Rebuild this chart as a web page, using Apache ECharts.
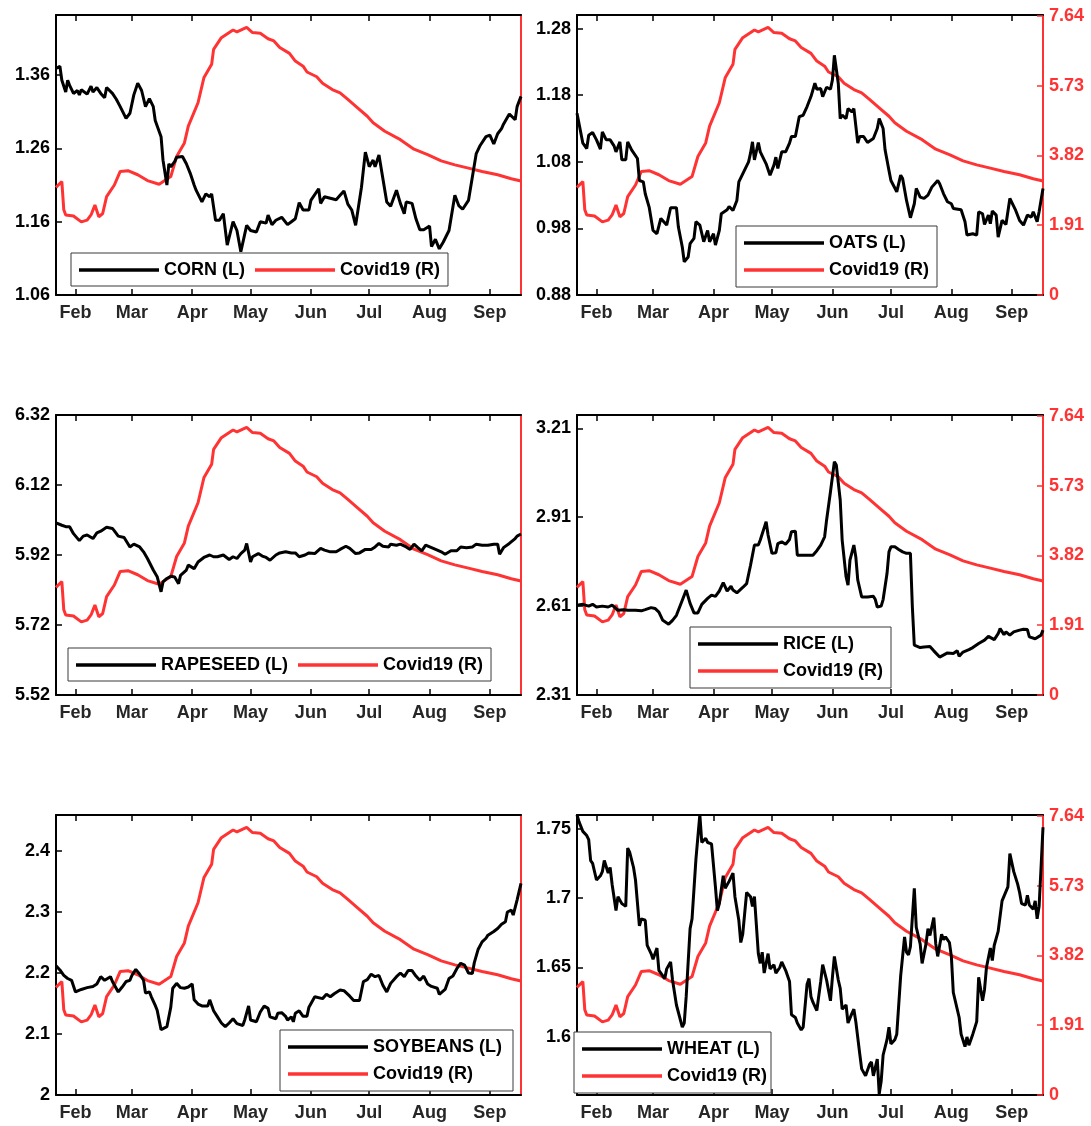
<!DOCTYPE html>
<html>
<head>
<meta charset="utf-8">
<title>Agricultural commodity prices vs Covid19, 2020</title>
<script src="https://cdn.jsdelivr.net/npm/echarts@6/dist/echarts.min.js"></script>
<style>
  html, body { margin: 0; padding: 0; background: #fff; }
  #chart { width: 1091px; height: 1126px; }
</style>
</head>
<body>
<div id="chart"></div>
<script>
// Observations are [day offset from 22 Jan 2020, value].
const START_DATE = Date.UTC(2020, 0, 22);
const END_DAY = 239; // 17 Sep 2020
const MONTH_NAMES = ['Jan', 'Feb', 'Mar', 'Apr', 'May', 'Jun', 'Jul', 'Aug', 'Sep', 'Oct', 'Nov', 'Dec'];
const MONTH_TICKS = ['2020-02-01', '2020-03-01', '2020-04-01', '2020-05-01', '2020-06-01', '2020-07-01', '2020-08-01', '2020-09-01'];

// Covid19 measure (right axis), shared by every panel
const COVID = [[0,2.94],[1,3.00],[3,3.10],[4,2.33],[5,2.19],[9,2.16],[13,2.00],[16,2.05],[18,2.19],[20,2.46],[22,2.14],[24,2.23],[26,2.69],[30,3.01],[33,3.38],[37,3.40],[42,3.29],[47,3.13],[53,3.03],[59,3.24],[62,3.79],[66,4.16],[68,4.62],[73,5.26],[76,5.94],[80,6.31],[81,6.72],[85,7.04],[91,7.25],[93,7.20],[98,7.32],[101,7.18],[105,7.16],[109,7.01],[112,6.95],[115,6.77],[120,6.61],[123,6.40],[127,6.26],[129,6.10],[134,5.97],[137,5.79],[142,5.62],[146,5.53],[150,5.35],[155,5.12],[160,4.89],[163,4.71],[169,4.48],[177,4.25],[184,3.99],[191,3.84],[198,3.67],[205,3.56],[212,3.47],[219,3.38],[227,3.29],[234,3.18],[239,3.12]];
const COVID_TICKS = [0, 1.91, 3.82, 5.73, 7.64];
const COVID_RANGE = [0, 7.66];

const CORN = [[0,1.369],[2,1.372],[3,1.353],[5,1.337],[6,1.353],[7,1.346],[9,1.335],[11,1.339],[12,1.333],[13,1.340],[16,1.334],[18,1.345],[19,1.337],[21,1.343],[23,1.335],[25,1.329],[26,1.343],[29,1.335],[31,1.327],[33,1.317],[34,1.316],[36,1.301],[38,1.308],[40,1.333],[42,1.349],[44,1.339],[46,1.317],[48,1.328],[50,1.317],[51,1.298],[52,1.296],[54,1.276],[55,1.244],[57,1.210],[58,1.239],[59,1.235],[61,1.242],[62,1.248],[65,1.249],[67,1.239],[69,1.226],[71,1.210],[72,1.203],[75,1.187],[77,1.198],[79,1.194],[80,1.198],[82,1.162],[84,1.162],[86,1.171],[88,1.128],[91,1.160],[93,1.148],[95,1.119],[96,1.121],[98,1.155],[100,1.148],[103,1.146],[105,1.160],[108,1.158],[109,1.169],[111,1.156],[113,1.162],[116,1.166],[119,1.156],[121,1.160],[123,1.164],[125,1.186],[127,1.176],[130,1.176],[131,1.189],[135,1.205],[136,1.185],[138,1.194],[141,1.192],[144,1.190],[146,1.196],[148,1.202],[150,1.184],[152,1.176],[154,1.155],[155,1.155],[157,1.207],[159,1.255],[161,1.235],[163,1.244],[164,1.235],[166,1.251],[168,1.219],[170,1.187],[172,1.181],[175,1.203],[177,1.185],[179,1.171],[180,1.187],[183,1.185],[185,1.164],[187,1.149],[189,1.149],[192,1.154],[193,1.126],[195,1.136],[197,1.123],[199,1.132],[202,1.148],[204,1.180],[205,1.196],[207,1.182],[209,1.177],[212,1.189],[214,1.221],[216,1.253],[218,1.264],[221,1.276],[223,1.278],[225,1.266],[227,1.280],[229,1.287],[230,1.293],[233,1.307],[234,1.309],[236,1.299],[237,1.317],[239,1.331]];
const CORN_TICKS = [1.06, 1.16, 1.26, 1.36];
const CORN_RANGE = [1.06, 1.442];

const OATS = [[0,1.153],[1,1.150],[3,1.108],[5,1.100],[6,1.120],[8,1.124],[10,1.113],[12,1.099],[13,1.125],[15,1.113],[17,1.113],[19,1.104],[20,1.095],[22,1.110],[23,1.083],[25,1.083],[26,1.110],[28,1.098],[31,1.085],[32,1.052],[34,1.050],[35,1.032],[37,1.012],[39,0.977],[41,0.972],[43,0.995],[44,0.992],[46,0.985],[48,1.011],[51,1.011],[52,0.982],[54,0.952],[55,0.930],[57,0.937],[58,0.957],[60,0.965],[61,0.990],[63,0.985],[65,0.960],[67,0.977],[68,0.960],[70,0.972],[71,0.955],[73,0.977],[74,1.002],[77,1.008],[78,1.013],[80,1.007],[82,1.022],[83,1.050],[85,1.062],[86,1.060],[88,1.080],[89,1.093],[90,1.110],[91,1.083],[93,1.109],[94,1.095],[97,1.077],[99,1.060],[101,1.075],[102,1.087],[103,1.070],[105,1.095],[107,1.095],[109,1.108],[110,1.118],[112,1.118],[114,1.148],[116,1.150],[118,1.163],[120,1.178],[122,1.198],[123,1.189],[125,1.190],[126,1.178],[128,1.192],[130,1.189],[131,1.203],[132,1.240],[134,1.198],[135,1.145],[136,1.150],[138,1.145],[139,1.160],[141,1.155],[142,1.160],[144,1.108],[145,1.118],[147,1.118],[149,1.109],[152,1.115],[154,1.130],[155,1.145],[157,1.130],[158,1.098],[160,1.067],[161,1.052],[164,1.035],[166,1.060],[167,1.055],[169,1.022],[171,0.996],[173,1.017],[174,1.040],[176,1.027],[178,1.025],[180,1.030],[182,1.042],[185,1.052],[186,1.047],[188,1.032],[190,1.020],[192,1.017],[193,1.010],[194,1.010],[197,1.008],[199,0.990],[200,0.970],[203,0.972],[205,0.970],[206,1.005],[208,1.002],[209,0.986],[211,1.000],[212,0.987],[213,1.006],[215,1.000],[216,0.967],[218,0.992],[220,0.986],[222,1.025],[225,1.007],[227,0.992],[229,0.985],[231,1.000],[233,0.997],[234,1.005],[236,0.990],[237,1.005],[238,1.002],[239,1.040]];
const OATS_TICKS = [0.88, 0.98, 1.08, 1.18, 1.28];
const OATS_RANGE = [0.88, 1.3005];

const RAPESEED = [[0,6.012],[3,6.005],[5,6.001],[7,6.001],[9,5.981],[12,5.961],[14,5.974],[16,5.977],[19,5.967],[21,5.983],[23,5.988],[26,5.999],[29,5.996],[30,5.989],[32,5.974],[35,5.970],[38,5.943],[40,5.951],[43,5.943],[45,5.929],[47,5.910],[48,5.905],[50,5.877],[52,5.858],[54,5.815],[55,5.843],[57,5.853],[59,5.859],[61,5.857],[63,5.838],[64,5.862],[67,5.877],[68,5.891],[71,5.881],[73,5.900],[76,5.913],[79,5.920],[81,5.915],[83,5.915],[86,5.920],[89,5.907],[91,5.915],[93,5.910],[95,5.924],[97,5.934],[98,5.953],[100,5.900],[101,5.915],[104,5.924],[106,5.917],[108,5.913],[110,5.905],[113,5.920],[115,5.926],[118,5.929],[121,5.926],[123,5.926],[125,5.915],[128,5.920],[130,5.926],[133,5.924],[136,5.939],[138,5.934],[141,5.929],[144,5.929],[146,5.936],[149,5.945],[151,5.939],[154,5.924],[156,5.926],[159,5.936],[162,5.936],[164,5.943],[166,5.953],[168,5.945],[171,5.943],[172,5.951],[175,5.948],[177,5.951],[180,5.943],[182,5.936],[184,5.951],[186,5.941],[188,5.932],[190,5.948],[193,5.941],[196,5.934],[198,5.929],[200,5.922],[203,5.932],[206,5.932],[208,5.943],[211,5.941],[214,5.943],[216,5.951],[219,5.948],[222,5.948],[225,5.951],[227,5.951],[228,5.922],[230,5.941],[231,5.943],[233,5.953],[236,5.967],[237,5.974],[239,5.980]];
const RAPESEED_TICKS = [5.52, 5.72, 5.92, 6.12, 6.32];
const RAPESEED_RANGE = [5.52, 6.32];

const RICE = [[0,2.613],[1,2.607],[3,2.616],[6,2.610],[8,2.616],[10,2.607],[13,2.610],[16,2.607],[18,2.613],[19,2.619],[21,2.596],[24,2.598],[26,2.596],[30,2.596],[33,2.594],[35,2.598],[38,2.605],[40,2.602],[42,2.590],[44,2.562],[47,2.549],[49,2.562],[51,2.579],[52,2.579],[54,2.630],[56,2.664],[58,2.619],[60,2.587],[62,2.587],[64,2.616],[67,2.636],[69,2.647],[71,2.643],[73,2.661],[75,2.689],[77,2.661],[79,2.677],[80,2.664],[82,2.655],[85,2.673],[87,2.686],[89,2.748],[91,2.816],[93,2.816],[94,2.833],[95,2.827],[97,2.895],[98,2.850],[100,2.788],[102,2.790],[103,2.821],[105,2.827],[107,2.819],[109,2.835],[110,2.861],[112,2.863],[113,2.782],[116,2.782],[119,2.782],[121,2.782],[123,2.797],[125,2.816],[127,2.844],[128,2.900],[130,2.996],[132,3.097],[133,3.086],[135,2.968],[136,2.833],[138,2.709],[139,2.681],[140,2.765],[142,2.816],[143,2.776],[144,2.698],[146,2.641],[149,2.641],[152,2.643],[153,2.632],[154,2.607],[156,2.610],[157,2.632],[159,2.720],[160,2.793],[161,2.810],[163,2.810],[165,2.801],[167,2.793],[169,2.788],[171,2.788],[172,2.607],[173,2.478],[176,2.470],[178,2.472],[181,2.474],[183,2.459],[186,2.438],[187,2.436],[190,2.452],[193,2.450],[195,2.459],[196,2.441],[198,2.455],[201,2.463],[203,2.470],[206,2.484],[209,2.495],[211,2.508],[214,2.497],[216,2.517],[217,2.534],[219,2.514],[220,2.523],[222,2.512],[224,2.523],[227,2.529],[229,2.532],[231,2.531],[232,2.506],[235,2.500],[236,2.500],[238,2.512],[239,2.529]];
const RICE_TICKS = [2.31, 2.61, 2.91, 3.21];
const RICE_RANGE = [2.31, 3.255];

const SOYBEANS = [[0,2.212],[2,2.205],[4,2.196],[6,2.191],[8,2.188],[10,2.169],[11,2.166],[13,2.173],[16,2.176],[19,2.178],[21,2.182],[23,2.194],[25,2.188],[28,2.194],[29,2.186],[30,2.188],[32,2.169],[34,2.177],[36,2.186],[38,2.188],[39,2.196],[41,2.206],[43,2.198],[45,2.188],[46,2.167],[48,2.169],[49,2.161],[51,2.147],[52,2.139],[54,2.107],[55,2.109],[57,2.112],[59,2.144],[60,2.175],[62,2.183],[64,2.176],[66,2.175],[68,2.177],[70,2.182],[71,2.156],[73,2.149],[75,2.146],[78,2.146],[79,2.156],[81,2.138],[83,2.128],[85,2.118],[87,2.112],[89,2.118],[91,2.125],[93,2.117],[96,2.114],[97,2.123],[99,2.146],[100,2.123],[101,2.125],[103,2.120],[105,2.136],[107,2.146],[109,2.142],[110,2.128],[113,2.125],[114,2.134],[116,2.135],[118,2.129],[119,2.123],[121,2.128],[122,2.120],[123,2.134],[125,2.138],[127,2.129],[129,2.129],[130,2.144],[133,2.161],[134,2.158],[137,2.158],[139,2.165],[141,2.161],[143,2.166],[146,2.172],[148,2.171],[151,2.162],[153,2.155],[156,2.155],[158,2.186],[160,2.189],[162,2.198],[164,2.194],[166,2.196],[168,2.180],[170,2.169],[172,2.183],[175,2.194],[177,2.200],[179,2.194],[181,2.204],[183,2.204],[185,2.195],[187,2.188],[189,2.195],[191,2.182],[193,2.178],[196,2.175],[197,2.165],[200,2.173],[202,2.191],[204,2.195],[206,2.207],[208,2.216],[210,2.213],[212,2.200],[214,2.199],[215,2.217],[217,2.239],[219,2.251],[221,2.257],[222,2.262],[225,2.268],[227,2.273],[229,2.280],[231,2.284],[232,2.300],[234,2.303],[235,2.295],[237,2.320],[239,2.347]];
const SOYBEANS_TICKS = [2, 2.1, 2.2, 2.3, 2.4];
const SOYBEANS_RANGE = [2.0, 2.459];

const WHEAT = [[0,1.760],[1,1.755],[3,1.748],[5,1.745],[6,1.742],[7,1.727],[8,1.725],[10,1.713],[12,1.716],[13,1.719],[14,1.727],[16,1.718],[17,1.722],[18,1.710],[20,1.691],[21,1.701],[23,1.696],[25,1.694],[26,1.736],[27,1.733],[29,1.722],[30,1.713],[32,1.680],[33,1.685],[35,1.684],[36,1.666],[38,1.660],[39,1.656],[41,1.664],[42,1.648],[43,1.647],[45,1.642],[46,1.649],[48,1.654],[49,1.641],[51,1.623],[52,1.622],[54,1.607],[55,1.610],[56,1.629],[58,1.678],[59,1.685],[61,1.728],[62,1.728],[63,1.760],[64,1.740],[66,1.743],[67,1.740],[69,1.739],[71,1.708],[72,1.691],[73,1.696],[75,1.716],[76,1.707],[78,1.712],[80,1.718],[81,1.701],[83,1.684],[84,1.668],[85,1.674],[87,1.704],[89,1.701],[90,1.694],[91,1.701],[93,1.660],[94,1.653],[95,1.661],[96,1.646],[98,1.660],[99,1.649],[101,1.652],[102,1.646],[104,1.650],[105,1.654],[107,1.648],[109,1.640],[110,1.616],[112,1.614],[113,1.610],[115,1.605],[116,1.607],[118,1.638],[119,1.642],[120,1.629],[121,1.625],[123,1.619],[125,1.640],[126,1.652],[128,1.641],[130,1.626],[131,1.643],[132,1.658],[134,1.641],[135,1.635],[136,1.620],[138,1.623],[139,1.610],[141,1.617],[142,1.620],[143,1.611],[145,1.588],[146,1.577],[148,1.572],[150,1.580],[151,1.582],[152,1.572],[154,1.584],[155,1.559],[156,1.568],[157,1.587],[159,1.598],[160,1.607],[161,1.595],[163,1.598],[164,1.602],[166,1.644],[168,1.672],[169,1.661],[170,1.659],[171,1.665],[173,1.707],[174,1.679],[175,1.678],[176,1.667],[177,1.653],[179,1.667],[180,1.678],[181,1.673],[183,1.686],[184,1.667],[185,1.658],[187,1.674],[188,1.670],[189,1.672],[191,1.668],[192,1.658],[193,1.632],[194,1.631],[196,1.614],[197,1.602],[199,1.593],[200,1.600],[201,1.594],[203,1.602],[205,1.611],[206,1.643],[208,1.626],[209,1.634],[210,1.650],[212,1.664],[213,1.655],[214,1.666],[216,1.676],[218,1.698],[219,1.699],[221,1.708],[222,1.732],[224,1.719],[226,1.710],[227,1.704],[228,1.696],[230,1.695],[231,1.702],[232,1.695],[234,1.692],[235,1.698],[236,1.685],[237,1.694],[238,1.722],[239,1.751]];
const WHEAT_TICKS = [1.6, 1.65, 1.7, 1.75];
const WHEAT_RANGE = [1.5582, 1.7598];

const COMMODITIES = [
  { label: 'CORN (L)', data: CORN, ticks: CORN_TICKS, range: CORN_RANGE },
  { label: 'OATS (L)', data: OATS, ticks: OATS_TICKS, range: OATS_RANGE },
  { label: 'RAPESEED (L)', data: RAPESEED, ticks: RAPESEED_TICKS, range: RAPESEED_RANGE },
  { label: 'RICE (L)', data: RICE, ticks: RICE_TICKS, range: RICE_RANGE },
  { label: 'SOYBEANS (L)', data: SOYBEANS, ticks: SOYBEANS_TICKS, range: SOYBEANS_RANGE },
  { label: 'WHEAT (L)', data: WHEAT, ticks: WHEAT_TICKS, range: WHEAT_RANGE }
];
const COVID_LABEL = 'Covid19 (R)';

// ---- layout & style ----
const RED = '#ff3333';
const FONT = 'Liberation Sans, Arial, Helvetica, sans-serif';
const GRID_LEFT = [56, 577];
const GRID_WIDTH = [465, 466];
const GRID_TOP = [15, 415, 815];
const GRID_HEIGHT = 280;
// legend placement per panel: [left, top, orient, padding]
const LEGEND_BOX = [
  [71, 253, 'horizontal', [8, 8, 7, 8]],
  [736, 226, 'vertical', [8, 8, 8, 8]],
  [68, 648, 'horizontal', [8, 8, 7, 8]],
  [690, 627, 'vertical', [8, 8, 8, 8]],
  [280, 1030, 'vertical', [8, 11, 8, 8]],
  [574, 1032, 'vertical', [8, 4, 8, 8]]
];

// x positions are dates held as UTC millisecond timestamps on a linear axis
const toTime = d => START_DATE + d * 86400000;
const toSeries = arr => arr.map(p => [toTime(p[0]), p[1]]);
const monthValues = MONTH_TICKS.map(s => Date.parse(s + 'T00:00:00Z'));
const numFmt = v => String(Math.round(v * 100) / 100);
const monthFmt = v => MONTH_NAMES[new Date(v).getUTCMonth()];

const grids = [], xAxes = [], yAxes = [], series = [], legends = [];

COMMODITIES.forEach((c, i) => {
  const col = i % 2, row = Math.floor(i / 2);
  grids.push({ left: GRID_LEFT[col], top: GRID_TOP[row], width: GRID_WIDTH[col], height: GRID_HEIGHT, containLabel: false });

  const xBase = {
    gridIndex: i, type: 'value', min: toTime(0), max: toTime(END_DAY),
    splitLine: { show: false },
    axisLine: { show: true, onZero: false, lineStyle: { color: '#000', width: 2 } },
    axisTick: { show: true, inside: true, length: 6, customValues: monthValues, lineStyle: { color: '#000', width: 1.5 } }
  };
  xAxes.push(Object.assign({}, xBase, {
    position: 'bottom',
    axisLabel: {
      show: true, customValues: monthValues, margin: 9, formatter: monthFmt,
      color: '#262626', fontFamily: FONT, fontWeight: 'bold', fontSize: 18
    }
  }));
  xAxes.push(Object.assign({}, xBase, { position: 'top', axisLabel: { show: false } }));

  yAxes.push({
    gridIndex: i, type: 'value', position: 'left', min: c.range[0], max: c.range[1],
    splitLine: { show: false },
    axisLine: { show: true, onZero: false, lineStyle: { color: '#000', width: 2 } },
    axisTick: { show: true, inside: true, length: 6, customValues: c.ticks, lineStyle: { color: '#000', width: 1.5 } },
    axisLabel: { show: true, customValues: c.ticks, margin: 6, formatter: numFmt, color: '#000', fontFamily: FONT, fontWeight: 'bold', fontSize: 18 }
  });
  const showRight = col === 1;
  yAxes.push({
    gridIndex: i, type: 'value', position: 'right', min: COVID_RANGE[0], max: COVID_RANGE[1],
    splitLine: { show: false },
    axisLine: { show: true, onZero: false, lineStyle: { color: RED, width: 2 } },
    axisTick: { show: showRight, inside: true, length: 6, customValues: COVID_TICKS, lineStyle: { color: RED, width: 1.5 } },
    axisLabel: { show: showRight, customValues: COVID_TICKS, margin: 6, formatter: numFmt, color: RED, fontFamily: FONT, fontWeight: 'bold', fontSize: 18 }
  });

  series.push({
    name: COVID_LABEL, type: 'line', xAxisIndex: 2 * i, yAxisIndex: 2 * i + 1,
    data: toSeries(COVID), symbol: 'none', smooth: false, z: 2,
    lineStyle: { color: RED, width: 3 }, itemStyle: { color: RED }
  });
  series.push({
    name: c.label, type: 'line', xAxisIndex: 2 * i, yAxisIndex: 2 * i,
    data: toSeries(c.data), symbol: 'none', smooth: false, z: 3,
    lineStyle: { color: '#000', width: 3 }, itemStyle: { color: '#000' }
  });

  // legend keys are plain thick strokes, drawn as thin filled bars
  const lb = LEGEND_BOX[i];
  legends.push({
    data: [c.label, COVID_LABEL], left: lb[0], top: lb[1], orient: lb[2], padding: lb[3],
    icon: 'rect', itemWidth: 80, itemHeight: 3.5, itemGap: lb[2] === 'horizontal' ? 10 : 9,
    selectedMode: false, backgroundColor: '#fff', borderColor: '#3a3a3a', borderWidth: 1,
    textStyle: { color: '#000', fontFamily: FONT, fontWeight: 'bold', fontSize: 18, lineHeight: 18 },
    z: 10
  });
});

const chart = echarts.init(document.getElementById('chart'), null, { renderer: 'canvas' });
chart.setOption({
  animation: false,
  backgroundColor: '#fff',
  grid: grids,
  xAxis: xAxes,
  yAxis: yAxes,
  legend: legends,
  series: series
});
</script>
</body>
</html>
